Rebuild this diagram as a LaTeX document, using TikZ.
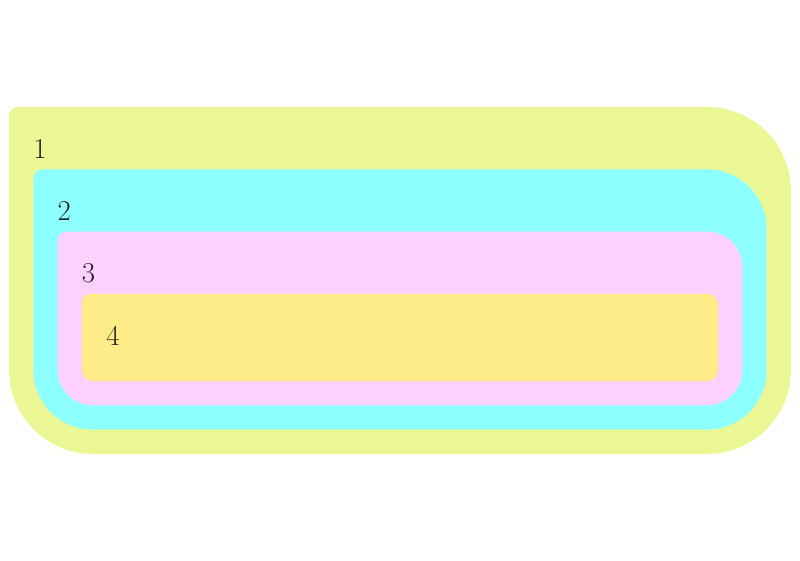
\documentclass[tikz,border=0pt]{standalone}
\usepackage{tikz}
\usepackage{xcolor}
\definecolor{lvlone}{HTML}{EBF795}
\definecolor{lvltwo}{HTML}{8DFFFF}
\definecolor{lvlthree}{HTML}{FDD1FD}
\definecolor{lvlfour}{HTML}{FDEC87}
\definecolor{inkgray}{HTML}{222222}

\begin{document}
\begin{tikzpicture}[x=0.025cm,y=0.025cm,
    lbl/.style={text=inkgray,inner sep=0pt,font=\fontsize{20.5}{24}\selectfont}]
        \useasboundingbox (0,0) rectangle (800,560);
        \foreach \i/\col [count=\n] in {0/lvlone,1/lvltwo,2/lvlthree,3/lvlfour} {
            \pgfmathsetmacro{\lft}{9+24.3*\i}
            \pgfmathsetmacro{\rgt}{791-24.3*\i}
            \pgfmathsetmacro{\tp}{453-62.3*\i}
            \pgfmathsetmacro{\bt}{106+24.3*\i}
            \pgfmathsetmacro{\rad}{84-24.3*\i}
            \fill[\col] (\lft,\tp-9) arc[start angle=180,end angle=90,radius=9]
                -- (\rgt-\rad,\tp) arc[start angle=90,end angle=0,radius=\rad]
                -- (\rgt,\bt+\rad) arc[start angle=0,end angle=-90,radius=\rad]
                -- (\lft+\rad,\bt) arc[start angle=270,end angle=180,radius=\rad] -- cycle;
            \node[lbl] (lbl\n) at (\lft+31,\tp-42) {\n};
        }
    \end{tikzpicture}
\end{document}
